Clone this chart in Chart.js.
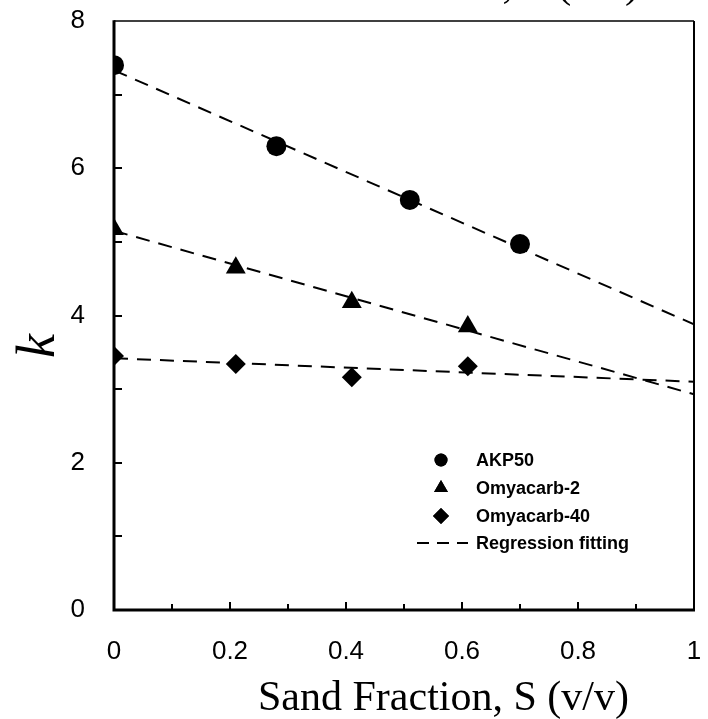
<!DOCTYPE html>
<html>
<head>
<meta charset="utf-8">
<script src="https://cdn.jsdelivr.net/npm/chart.js@4.4.1/dist/chart.umd.min.js"></script>
<style>
  html, body { margin: 0; padding: 0; background: #fff; }
  #wrap { width: 708px; height: 719px; }
</style>
</head>
<body>
<div id="wrap"><canvas id="myChart" width="708" height="719"></canvas></div>
<script>
// data
const akpX = [0, 0.28, 0.51, 0.70];
const akpK = [7.40, 6.30, 5.57, 4.97];
const omy2X = [0, 0.21, 0.41, 0.61];
const omy2K = [5.17, 4.65, 4.18, 3.85];
const omy40X = [0, 0.21, 0.41, 0.61];
const omy40K = [3.45, 3.34, 3.16, 3.31];

// regression lines (end points at S = 0 and S = 1)
const fitX = [0, 1];
const akpFit = [7.33, 3.88];
const omy2Fit = [5.15, 2.93];
const omy40Fit = [3.42, 3.10];

const legendLabels = ['AKP50', 'Omyacarb-2', 'Omyacarb-40', 'Regression fitting'];
const xTicks = [0, 0.2, 0.4, 0.6, 0.8, 1];
const yTicks = [0, 2, 4, 6, 8];

const xTitle = 'Sand Fraction, S (v/v)';
const yTitle = 'k';

function pts(xs, ys) {
    return xs.map((x, i) => ({ x: x, y: ys[i] }));
}

const markerSet = [
    { style: 'circle', radius: 10, legendRadius: 6.5 },
    { style: 'triangle', radius: 11.5, legendRadius: 8 },
    { style: 'rectRot', radius: 10, legendRadius: 8 }
];

function fitSet(ys) {
    return {
        type: 'line',
        data: pts(fitX, ys),
        borderColor: '#000',
        borderWidth: 2,
        borderDash: [14, 9],
        pointRadius: 0,
        fill: false,
        tension: 0
    };
}

function pointSet(xs, ys, m) {
    return {
        type: 'scatter',
        data: pts(xs, ys),
        pointStyle: m.style,
        pointRadius: m.radius,
        pointHoverRadius: m.radius,
        backgroundColor: '#000',
        borderColor: '#000',
        borderWidth: 0
    };
}

//frame, inward ticks, titles, legend
const decorPlugin = {
    id: 'decor',
    afterDatasetsDraw(chart) {
        const ctx = chart.ctx;
        const a = chart.chartArea;
        const xs = chart.scales.x;
        const ys = chart.scales.y;
        ctx.save();
        ctx.strokeStyle = '#000';
        ctx.setLineDash([]);

        // ticks on x axis, every 0.1, longer at 0.2
        ctx.lineWidth = 2;
        for (let i = 1; i < 10; i++) {
            const px = Math.round(xs.getPixelForValue(i / 10));
            const len = (i % 2 === 0) ? 8 : 6;
            ctx.beginPath();
            ctx.moveTo(px, a.bottom);
            ctx.lineTo(px, a.bottom - len);
            ctx.stroke();
        }
        // ticks on y axis, every 1
        for (let v = 1; v < 8; v++) {
            const py = Math.round(ys.getPixelForValue(v));
            ctx.beginPath();
            ctx.moveTo(a.left, py);
            ctx.lineTo(a.left + 8, py);
            ctx.stroke();
        }

        // frame
        ctx.lineWidth = 1.5;
        ctx.beginPath();
        ctx.moveTo(a.left, a.top);
        ctx.lineTo(a.right, a.top);
        ctx.stroke();
        ctx.lineWidth = 2;
        ctx.beginPath();
        ctx.moveTo(a.right, a.top);
        ctx.lineTo(a.right, a.bottom);
        ctx.stroke();
        ctx.lineWidth = 3;
        ctx.beginPath();
        ctx.moveTo(a.left, a.top - 0.75);
        ctx.lineTo(a.left, a.bottom);
        ctx.lineTo(a.right + 1, a.bottom);
        ctx.stroke();

        // axis titles
        ctx.fillStyle = '#000';
        ctx.font = '42px "Liberation Serif", "Times New Roman", serif';
        ctx.textAlign = 'left';
        ctx.textBaseline = 'alphabetic';
        ctx.fillText(xTitle, 258, 710);
        // title of the panel above, cut off at the top edge
        ctx.fillText(xTitle, 268, -3);

        ctx.save();
        ctx.translate(40, 346);
        ctx.rotate(-Math.PI / 2);
        ctx.font = 'italic 54px "Liberation Serif", "Times New Roman", serif';
        ctx.textAlign = 'center';
        ctx.textBaseline = 'middle';
        ctx.fillText(yTitle, 0, 0);
        ctx.restore();

        // legend
        const lx = 441, tx = 476;
        const rows = [460, 488, 516, 543];
        ctx.font = 'bold 18px "Liberation Sans", Arial, sans-serif';
        ctx.textAlign = 'left';
        ctx.textBaseline = 'middle';
        for (let i = 0; i < legendLabels.length; i++) {
            const y = rows[i];
            if (i < markerSet.length) {
                Chart.helpers.drawPoint(ctx, {
                    pointStyle: markerSet[i].style,
                    radius: markerSet[i].legendRadius,
                    rotation: 0,
                    borderWidth: 0
                }, lx, y);
                ctx.fill();
            } else {
                ctx.lineWidth = 2;
                ctx.setLineDash([12, 8]);
                ctx.beginPath();
                ctx.moveTo(417, y);
                ctx.lineTo(468, y);
                ctx.stroke();
                ctx.setLineDash([]);
            }
            ctx.fillText(legendLabels[i], tx, y + 1);
        }
        ctx.restore();
    }
};

const ctx = document.getElementById('myChart').getContext('2d');
const myChart = new Chart(ctx, {
    data: {
        datasets: [
            fitSet(akpFit),
            fitSet(omy2Fit),
            fitSet(omy40Fit),
            pointSet(akpX, akpK, markerSet[0]),
            pointSet(omy2X, omy2K, markerSet[1]),
            pointSet(omy40X, omy40K, markerSet[2])
        ]
    },
    options: {
        responsive: false,
        animation: false,
        layout: { padding: { top: 21, right: 14, left: 0, bottom: 0 } },
        plugins: {
            legend: { display: false },
            tooltip: { enabled: false }
        },
        scales: {
            x: {
                type: 'linear',
                min: 0,
                max: 1,
                afterFit: (s) => {
                    s.height = 109;
                    s.paddingLeft = 0;
                    s.paddingRight = 0;
                },
                afterBuildTicks: (s) => { s.ticks = xTicks.map(v => ({ value: v })); },
                grid: { display: false, drawTicks: false },
                border: { display: false },
                ticks: {
                    padding: 26,
                    color: '#000',
                    maxRotation: 0,
                    font: { family: '"Liberation Sans", Arial, sans-serif', size: 26 },
                    callback: (v) => String(Math.round(v * 10) / 10)
                }
            },
            y: {
                type: 'linear',
                min: 0,
                max: 8,
                afterFit: (s) => {
                    s.width = 114;
                    s.paddingTop = 0;
                    s.paddingBottom = 0;
                },
                afterBuildTicks: (s) => { s.ticks = yTicks.map(v => ({ value: v })); },
                grid: { display: false, drawTicks: false },
                border: { display: false },
                ticks: {
                    padding: 29,
                    color: '#000',
                    font: { family: '"Liberation Sans", Arial, sans-serif', size: 26 }
                }
            }
        }
    },
    plugins: [decorPlugin]
});
</script>
</body>
</html>
